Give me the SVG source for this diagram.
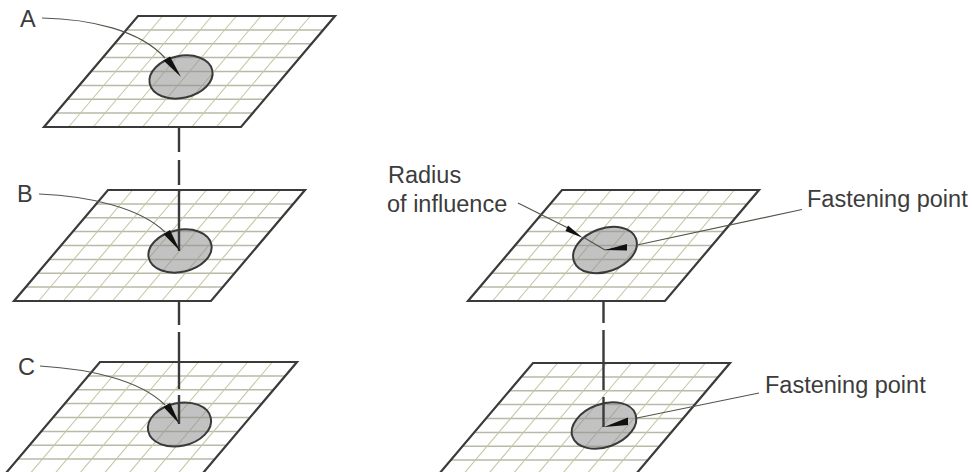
<svg xmlns="http://www.w3.org/2000/svg" width="972" height="472" viewBox="0 0 972 472">
<style>
.gridh{fill:none;stroke:#b9b9a8;stroke-width:1.5}
.gridv{fill:none;stroke:#c6c6a6;stroke-width:1.1}
.edge{fill:none;stroke:#3a3a3a;stroke-width:2.2}
.disc{fill:#8f8f8f;fill-opacity:.55;stroke:#3a3a3a;stroke-width:2}
.lead{fill:none;stroke:#55554c;stroke-width:1.2}
.wedge{fill:#111;stroke:none}
.axis{fill:none;stroke:#3a3a3a;stroke-width:2.4}
text{font-family:"Liberation Sans",Arial,sans-serif;font-size:23.500px;fill:#3c3c3c}
</style>
<defs>
<g id="plane">
<path d="M0 0H197L103 111H-94Z" fill="#fff" stroke="none"/>
<path class="gridh" d="M-11.750 13.900h197M-23.500 27.750h197M-35.250 41.600h197M-47 55.500h197M-58.750 69.400h197M-70.500 83.250h197M-82.250 97.100h197"/>
<path class="gridv" d="M24.600 0l-94 111M49.250 0l-94 111M73.900 0l-94 111M98.500 0l-94 111M123.100 0l-94 111M147.750 0l-94 111M172.400 0l-94 111"/>
<path class="edge" d="M0 0H197L103 111H-94Z"/>
</g>
</defs>
<rect width="972" height="472" fill="#fff"/>
<g id="plane-a"><use href="#plane" x="138" y="16"/><ellipse class="disc" cx="181" cy="77" rx="32" ry="21" transform="rotate(-12 181 77)"/></g>
<g id="plane-b"><use href="#plane" x="108" y="190"/><ellipse class="disc" cx="180" cy="251" rx="32" ry="21" transform="rotate(-12 180 251)"/></g>
<g id="plane-c"><use href="#plane" x="100" y="362"/><ellipse class="disc" cx="179.500" cy="424.500" rx="32" ry="21.500" transform="rotate(-12 179.500 424.500)"/></g>
<g id="plane-d"><use href="#plane" x="562" y="190"/><ellipse class="disc" cx="605" cy="250" rx="33" ry="21.500" transform="rotate(-20 605 250)"/></g>
<g id="plane-e"><use href="#plane" x="533" y="363"/><ellipse class="disc" cx="604" cy="425.500" rx="33.500" ry="21.500" transform="rotate(-20 604 425.500)"/></g>
<g id="connectors">
<path class="axis" d="M179 128V152M179 160V185M179 190V251M179 301V325M179 332V389M179 395V424M603.500 302V323M603.500 330V390M603.500 397V427"/>
<path class="lead" d="M42 18C90 19 140 30 165 58M39 194C90 196 140 208 165 232M40 366C90 369 140 380 165 405M518 203L568 228M583 237L605 250M802 209.500L637 245M627 247L605 250M759 393L637 418"/>
<polygon class="wedge" points="163.500,60.500 170,56.500 181,77"/>
<polygon class="wedge" points="163.500,234 170,230 180,251"/>
<polygon class="wedge" points="163.500,407 170,403 179.500,424"/>
<polygon class="wedge" points="568,225.500 565.500,231 583,238"/>
<polygon class="wedge" points="627,244 627,250.500 605,250"/>
<polygon class="wedge" points="628,417.500 628,425 604,427"/>
</g>
<g id="labels">
<text x="20" y="27">A</text>
<text x="17" y="202">B</text>
<text x="18" y="375">C</text>
<text x="388" y="183">Radius</text>
<text x="387" y="212">of influence</text>
<text x="807" y="207">Fastening point</text>
<text x="765" y="393">Fastening point</text>
</g>
</svg>
